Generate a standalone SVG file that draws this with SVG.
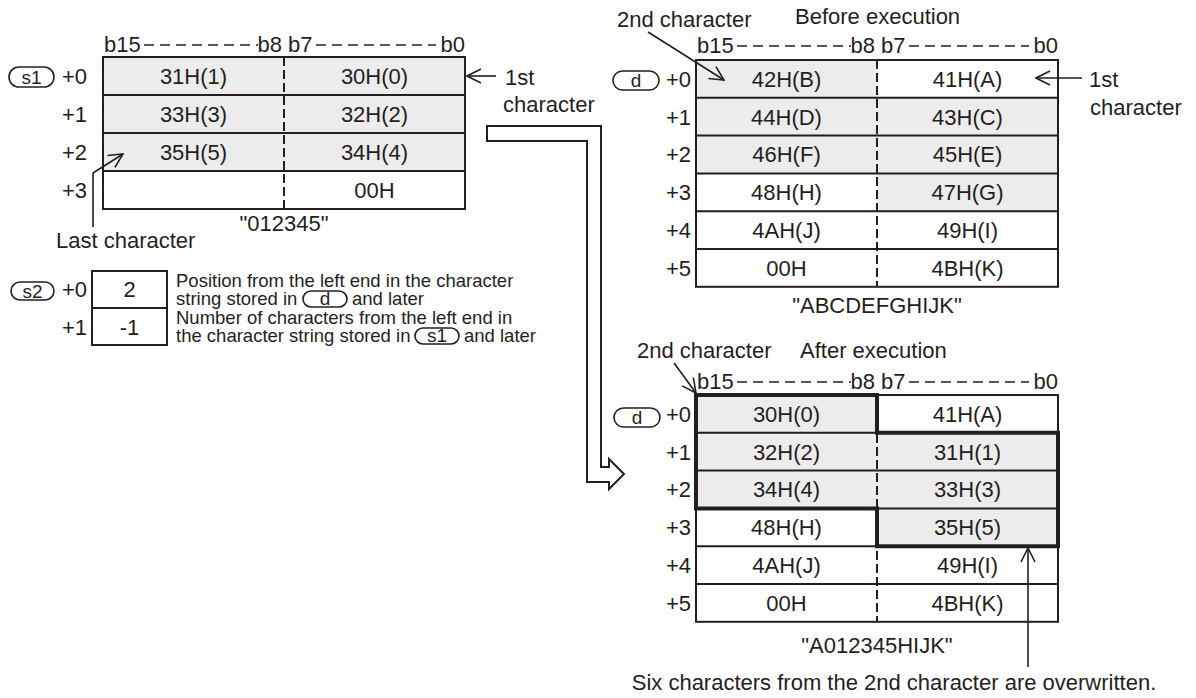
<svg xmlns="http://www.w3.org/2000/svg" width="1196" height="698" viewBox="0 0 1196 698">
<style>
text{font-family:"Liberation Sans",Arial,Helvetica,sans-serif;font-size:22px;fill:#231f20}
.sm{font-size:18.5px}
.pl{font-size:19px;text-anchor:middle}
.c{text-anchor:middle}
.r{text-anchor:end}
.ln{stroke:#231f20;stroke-width:2;fill:none}
.g{fill:#ececec}
.mid{stroke:#231f20;stroke-width:2;stroke-dasharray:9 4;fill:none}
.hd{stroke:#231f20;stroke-width:1.6;stroke-dasharray:10 6;fill:none}
.pill{fill:#fff;stroke:#231f20;stroke-width:1.6}
.thick{stroke:#231f20;stroke-width:4;fill:none;stroke-linejoin:miter}
.ar{stroke:#231f20;stroke-width:1.6;fill:none}
</style>
<defs>
<marker id="open" viewBox="0 0 16 16" refX="15" refY="8" markerWidth="16" markerHeight="16" markerUnits="userSpaceOnUse" orient="auto">
<path d="M1,1 L15,8 L1,15" fill="none" stroke="#231f20" stroke-width="1.6"/>
</marker>
</defs>
<rect width="1196" height="698" fill="#fff"/>

<g id="s1-table">
<rect class="g" x="103" y="57" width="362" height="114"/>
<rect class="ln" x="103" y="57" width="362" height="152"/>
<path class="ln" d="M103,95H465M103,133H465M103,171H465"/>
<line class="mid" x1="284" y1="57" x2="284" y2="209"/>
<text x="104" y="52">b15</text>
<line class="hd" x1="144" y1="45" x2="258" y2="45"/>
<text class="r" x="282" y="52">b8</text>
<text x="288" y="52">b7</text>
<line class="hd" x1="316" y1="45" x2="436" y2="45"/>
<text class="r" x="465" y="52">b0</text>
<rect class="pill" x="9" y="67" width="45" height="20" rx="10"/>
<text class="pl" x="31.5" y="84">s1</text>
<text class="r" x="87" y="84">+0</text>
<text class="r" x="87" y="122">+1</text>
<text class="r" x="87" y="160">+2</text>
<text class="r" x="87" y="198">+3</text>
<text class="c" x="193.5" y="84">31H(1)</text>
<text class="c" x="374.5" y="84">30H(0)</text>
<text class="c" x="193.5" y="122">33H(3)</text>
<text class="c" x="374.5" y="122">32H(2)</text>
<text class="c" x="193.5" y="160">35H(5)</text>
<text class="c" x="374.5" y="160">34H(4)</text>
<text class="c" x="374.5" y="198">00H</text>
<text class="c" x="284" y="231">"012345"</text>
<text x="505" y="85">1st</text>
<text x="503" y="112">character</text>
<text x="56" y="248">Last character</text>
</g>

<g id="s2-box">
<rect class="pill" x="11" y="282" width="43" height="18" rx="9"/>
<text class="pl" x="32.5" y="298">s2</text>
<text class="r" x="87" y="297">+0</text>
<text class="r" x="87" y="335">+1</text>
<rect class="ln" x="92" y="271" width="75" height="74"/>
<line class="ln" x1="92" y1="308" x2="167" y2="308"/>
<text class="c" x="129.5" y="297">2</text>
<text class="c" x="129.5" y="335">-1</text>
<text class="sm" x="176" y="287">Position from the left end in the character</text>
<text class="sm" x="176" y="305">string stored in</text>
<rect class="pill" x="303" y="291" width="44" height="16" rx="8"/>
<text class="pl" x="325" y="305">d</text>
<text class="sm" x="352" y="305">and later</text>
<text class="sm" x="176" y="324">Number of characters from the left end in</text>
<text class="sm" x="176" y="342">the character string stored in</text>
<rect class="pill" x="415" y="328" width="44" height="16" rx="8"/>
<text class="pl" x="437" y="342">s1</text>
<text class="sm" x="464" y="342">and later</text>
</g>

<g id="d-before">
<rect class="g" x="696" y="60" width="181" height="37.8"/>
<rect class="g" x="696" y="97.8" width="362" height="75.6"/>
<rect class="g" x="877" y="173.4" width="181" height="37.8"/>
<rect class="ln" x="696" y="60" width="362" height="226.8"/>
<path class="ln" d="M696,97.8H1058M696,135.6H1058M696,173.4H1058M696,211.2H1058M696,249H1058"/>
<line class="mid" x1="877" y1="60" x2="877" y2="286.8"/>
<text x="697" y="53">b15</text>
<line class="hd" x1="737" y1="46" x2="851" y2="46"/>
<text class="r" x="875" y="53">b8</text>
<text x="881" y="53">b7</text>
<line class="hd" x1="909" y1="46" x2="1029" y2="46"/>
<text class="r" x="1058" y="53">b0</text>
<text x="617" y="27">2nd character</text>
<text x="795" y="24">Before execution</text>
<rect class="pill" x="613" y="71" width="46" height="19" rx="9.5"/>
<text class="pl" x="636" y="87">d</text>
<text class="r" x="691" y="87">+0</text>
<text class="r" x="691" y="125">+1</text>
<text class="r" x="691" y="162">+2</text>
<text class="r" x="691" y="200">+3</text>
<text class="r" x="691" y="238">+4</text>
<text class="r" x="691" y="276">+5</text>
<text class="c" x="786.5" y="87">42H(B)</text>
<text class="c" x="967.5" y="87">41H(A)</text>
<text class="c" x="786.5" y="125">44H(D)</text>
<text class="c" x="967.5" y="125">43H(C)</text>
<text class="c" x="786.5" y="162">46H(F)</text>
<text class="c" x="967.5" y="162">45H(E)</text>
<text class="c" x="786.5" y="200">48H(H)</text>
<text class="c" x="967.5" y="200">47H(G)</text>
<text class="c" x="786.5" y="238">4AH(J)</text>
<text class="c" x="967.5" y="238">49H(I)</text>
<text class="c" x="786.5" y="276">00H</text>
<text class="c" x="967.5" y="276">4BH(K)</text>
<text class="c" x="877" y="313">"ABCDEFGHIJK"</text>
<text x="1089" y="87">1st</text>
<text x="1090" y="115">character</text>
</g>

<g id="d-after">
<rect class="g" x="696" y="395" width="181" height="37.8"/>
<rect class="g" x="696" y="432.8" width="362" height="75.6"/>
<rect class="g" x="877" y="508.4" width="181" height="37.8"/>
<rect class="ln" x="696" y="395" width="362" height="226.8"/>
<path class="ln" d="M696,432.8H1058M696,470.6H1058M696,508.4H1058M696,546.2H1058M696,584H1058"/>
<line class="mid" x1="877" y1="395" x2="877" y2="621.8"/>
<path class="thick" d="M696,395H877V432.8H1058V546.2H877V508.4H696Z"/>
<text x="697" y="389">b15</text>
<line class="hd" x1="737" y1="382" x2="851" y2="382"/>
<text class="r" x="875" y="389">b8</text>
<text x="881" y="389">b7</text>
<line class="hd" x1="909" y1="382" x2="1029" y2="382"/>
<text class="r" x="1058" y="389">b0</text>
<text x="637" y="358">2nd character</text>
<text x="800" y="358">After execution</text>
<rect class="pill" x="614" y="408" width="46" height="19" rx="9.5"/>
<text class="pl" x="637" y="424">d</text>
<text class="r" x="691" y="422">+0</text>
<text class="r" x="691" y="460">+1</text>
<text class="r" x="691" y="497">+2</text>
<text class="r" x="691" y="535">+3</text>
<text class="r" x="691" y="573">+4</text>
<text class="r" x="691" y="611">+5</text>
<text class="c" x="786.5" y="422">30H(0)</text>
<text class="c" x="967.5" y="422">41H(A)</text>
<text class="c" x="786.5" y="460">32H(2)</text>
<text class="c" x="967.5" y="460">31H(1)</text>
<text class="c" x="786.5" y="497">34H(4)</text>
<text class="c" x="967.5" y="497">33H(3)</text>
<text class="c" x="786.5" y="535">48H(H)</text>
<text class="c" x="967.5" y="535">35H(5)</text>
<text class="c" x="786.5" y="573">4AH(J)</text>
<text class="c" x="967.5" y="573">49H(I)</text>
<text class="c" x="786.5" y="611">00H</text>
<text class="c" x="967.5" y="611">4BH(K)</text>
<text class="c" x="877" y="653">"A012345HIJK"</text>
<text class="c" x="894" y="690">Six characters from the 2nd character are overwritten.</text>
</g>

<g id="connectors">
<line class="ar" x1="496" y1="76" x2="467" y2="76" marker-end="url(#open)"/>
<line class="ar" x1="1082" y1="78" x2="1036" y2="78" marker-end="url(#open)"/>
<polyline class="ar" points="93,227 93,173 123,154" marker-end="url(#open)"/>
<line class="ar" x1="648" y1="32" x2="724" y2="80" marker-end="url(#open)"/>
<line class="ar" x1="674" y1="363" x2="696" y2="393" marker-end="url(#open)"/>
<line class="ar" x1="1028" y1="667" x2="1028" y2="548" marker-end="url(#open)"/>
<polygon points="487,126 601,126 601,467 609,467 609,459 624,474 609,489 609,482 587,482 587,141 487,141" fill="#fff" stroke="#231f20" stroke-width="2" stroke-linejoin="miter"/>
</g>
</svg>
